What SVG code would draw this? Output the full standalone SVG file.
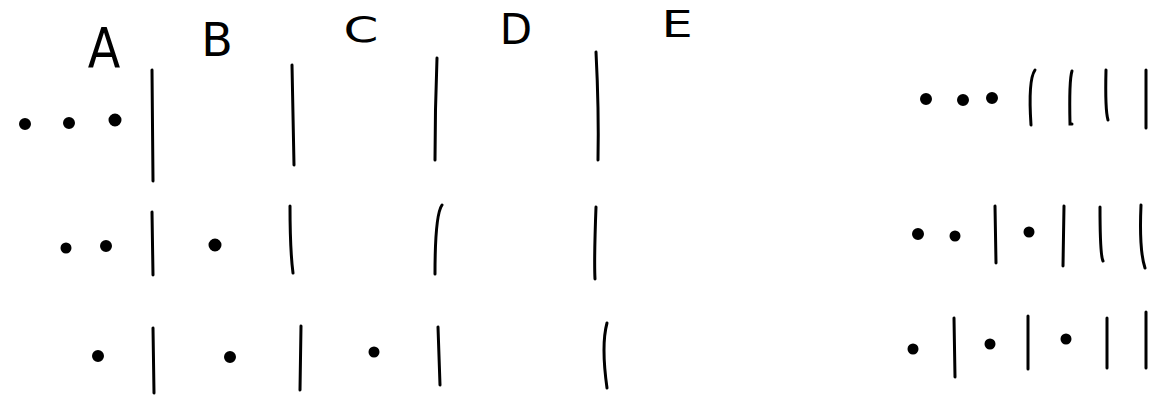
<svg xmlns="http://www.w3.org/2000/svg" width="1150" height="397" viewBox="0 0 1150 397">
<style>
.ln{fill:none;stroke:#000;stroke-width:3;stroke-linecap:round}
.dot{fill:#000;stroke:#000;stroke-width:3}
.lbl{font-family:"DejaVu Sans","Liberation Sans",sans-serif;fill:#000;text-anchor:middle}
</style>
<rect width="1150" height="397" fill="#fff"/>
<g id="labels">
<text class="lbl" x="104" y="67" font-size="56" transform="translate(104 67) scale(0.85 1) translate(-104 -67)">A</text>
<text class="lbl" x="217" y="56" font-size="46">B</text>
<text class="lbl" x="361" y="42" font-size="40" transform="translate(361 42) scale(1.25 0.9) translate(-361 -42)">C</text>
<text class="lbl" x="516" y="44" font-size="42">D</text>
<text class="lbl" x="677" y="37" font-size="38" transform="translate(677 37) scale(1.3 1) translate(-677 -37)">E</text>
</g>
<g id="left-grid">
<g id="dots-left">
<circle class="dot" cx="25" cy="124" r="4.5"/>
<circle class="dot" cx="69" cy="123" r="4.5"/>
<circle class="dot" cx="115" cy="120" r="5"/>
<circle class="dot" cx="66" cy="248" r="4"/>
<circle class="dot" cx="106" cy="246" r="4.5"/>
<circle class="dot" cx="215" cy="245" r="5"/>
<circle class="dot" cx="98" cy="356" r="4.5"/>
<circle class="dot" cx="230" cy="357" r="4.5"/>
<circle class="dot" cx="374" cy="352" r="4"/>
</g>
<g id="bars-left">
<path class="ln" d="M152 70 L153 181"/>
<path class="ln" d="M292 65 Q293 120 294 165"/>
<path class="ln" d="M437 58 Q435 110 435 160"/>
<path class="ln" d="M596 52 Q599 110 598 160"/>
<path class="ln" d="M152 212 L153 275"/>
<path class="ln" d="M290 206 Q290 250 293 273"/>
<path class="ln" d="M442 205 Q435 215 435 274"/>
<path class="ln" d="M596 207 Q594 260 595 279"/>
<path class="ln" d="M153 328 L154 393"/>
<path class="ln" d="M301 326 L300 390"/>
<path class="ln" d="M438 327 L440 385"/>
<path class="ln" d="M607 323 Q601 345 607 388"/>
</g>
</g>
<g id="right-grid">
<g id="dots-right">
<circle class="dot" cx="926" cy="99" r="4.5"/>
<circle class="dot" cx="963" cy="100" r="4.5"/>
<circle class="dot" cx="992" cy="98" r="4.5"/>
<circle class="dot" cx="918" cy="234" r="4.5"/>
<circle class="dot" cx="955" cy="236" r="4"/>
<circle class="dot" cx="1029" cy="232" r="4"/>
<circle class="dot" cx="913" cy="349" r="4"/>
<circle class="dot" cx="990" cy="344" r="4"/>
<circle class="dot" cx="1066" cy="339" r="4"/>
</g>
<g id="bars-right">
<path class="ln" d="M1035 70 Q1028 80 1031 125"/>
<path class="ln" d="M1072 71 Q1069 80 1070 124 L1072 124"/>
<path class="ln" d="M1106 70 Q1105 110 1108 120"/>
<path class="ln" d="M1146 70 L1146 128"/>
<path class="ln" d="M995 206 L996 263"/>
<path class="ln" d="M1064 206 L1063 266"/>
<path class="ln" d="M1100 207 Q1100 255 1103 261"/>
<path class="ln" d="M1141 205 Q1139 250 1145 268"/>
<path class="ln" d="M954 318 L955 377"/>
<path class="ln" d="M1028 316 L1028 369"/>
<path class="ln" d="M1107 318 L1107 368"/>
<path class="ln" d="M1146 312 L1146 368"/>
</g>
</g>
</svg>
